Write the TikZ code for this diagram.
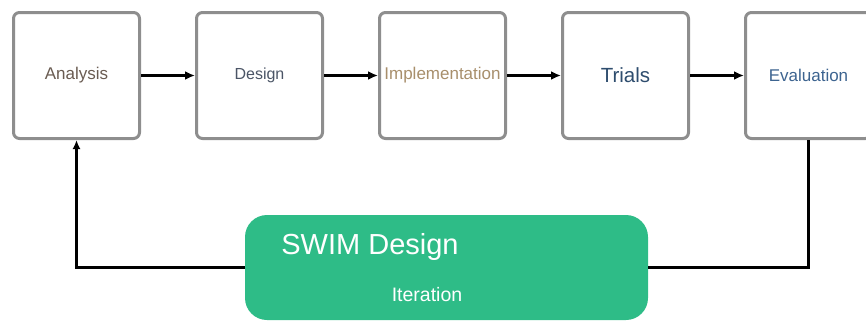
\documentclass[tikz,border=0pt]{standalone}
\usepackage{fontspec}
\setmainfont{Liberation Sans}
\usepackage{xcolor}
\usetikzlibrary{arrows.meta,positioning}
\definecolor{boxrule}{HTML}{8E8E8E}
\definecolor{swimgreen}{HTML}{2EBC87}
\definecolor{txtbrown}{HTML}{6A5C52}
\definecolor{txtslate}{HTML}{4B5566}
\definecolor{txttan}{HTML}{A88F6C}
\definecolor{txtnavy}{HTML}{2E4D6E}
\definecolor{txtblue}{HTML}{3D6490}

\begin{document}
\begin{tikzpicture}[
  x=1pt,y=-1pt,
  node distance=54pt,
  stage/.style={draw=boxrule,fill=white,rounded corners=6pt,line width=3pt,
                minimum width=126pt,minimum height=126pt,align=center,
                font=\fontsize{17}{20}\selectfont},
  loopbox/.style={fill=swimgreen,rounded corners=22pt,minimum width=403pt,
                  minimum height=105pt},
  ar/.style={-{Latex[length=10pt,width=9pt]},line width=3pt},
  back/.style={line width=2.5pt}
]
\useasboundingbox (0,0) rectangle (866,322);

\node[stage,text=txtbrown] (ana) at (76.5,75.5) {Analysis};
\node[stage,text=txtslate,right=of ana,font=\fontsize{16}{19}\selectfont] (des) {Design};
\node[stage,text=txttan,right=of des] (imp) {Implementation};
\node[stage,text=txtnavy,right=of imp,font=\fontsize{20.5}{24}\selectfont] (tri) {Trials};
\node[stage,text=txtblue,right=of tri] (eva) {Evaluation};

\node[loopbox] (swim) at (446.5,267.5) {};
\node[text=white,font=\fontsize{29}{32}\selectfont] (swimtitle) at (370,247) {SWIM Design};
\node[text=white,font=\fontsize{19.5}{22}\selectfont] (swimsub) at (427,295) {Iteration};

\draw[ar] (ana) -- (des);
\draw[ar] (des) -- (imp);
\draw[ar] (imp) -- (tri);
\draw[ar] (tri) -- (eva);

% feedback loop through the green box
\draw[back] (eva.south) |- (swim.east);
\draw[back,-{Latex[length=9pt,width=8pt]}] (swim.west) -| (ana.south);
\end{tikzpicture}
\end{document}
